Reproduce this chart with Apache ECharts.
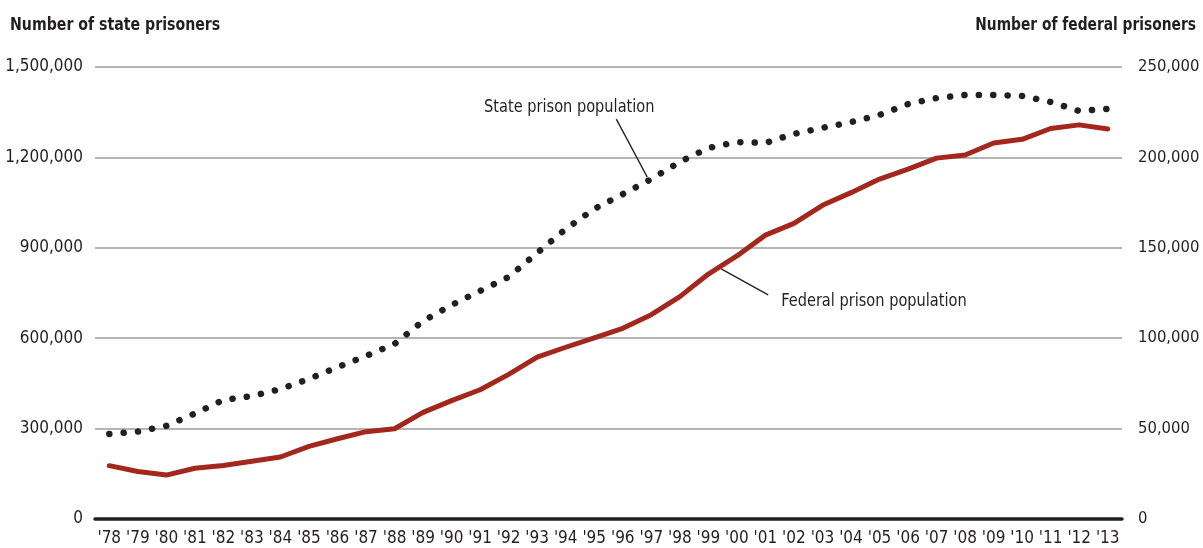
<!DOCTYPE html>
<html><head><meta charset="utf-8">
<script src="https://cdn.jsdelivr.net/npm/echarts@6/dist/echarts.min.js"></script>
<style>html,body{margin:0;padding:0;background:#fff}#c{width:1203px;height:548px}</style>
</head><body><div id="c"></div>
<script>
const years = ["'78","'79","'80","'81","'82","'83","'84","'85","'86","'87","'88","'89","'90","'91","'92","'93","'94","'95","'96","'97","'98","'99","'00","'01","'02","'03","'04","'05","'06","'07","'08","'09","'10","'11","'12","'13"];
const stateValues = [282000,290000,309000,350000,395000,408000,431000,465000,504000,541000,581000,657000,710000,757000,803000,883000,962000,1029000,1078000,1128000,1185000,1231000,1251000,1248000,1278000,1298000,1317000,1341000,1377000,1397000,1407000,1407000,1404000,1384000,1354000,1361000];
const federalValues = [29500,26300,24300,28100,29600,31900,34300,40200,44400,48300,49900,59000,65500,71500,80000,89500,95000,100200,105500,113000,123000,135500,145500,157000,163500,173500,180500,188000,193500,199600,201300,208000,210000,216000,218000,215700];
const leftTicks = [0,300000,600000,900000,1200000,1500000];
const rightTicks = [0,50000,100000,150000,200000,250000];
const leftTitle = 'Number of state prisoners';
const rightTitle = 'Number of federal prisoners';
const stateLabel = 'State prison population';
const federalLabel = 'Federal prison population';

const FONT = "'DejaVu Sans Condensed', Lato, sans-serif";
const INK = '#231f20';
const fmt = v => Number(v).toLocaleString('en-US');

const chart = echarts.init(document.getElementById('c'), null, {renderer:'canvas'});
const option = {
  animation: false,
  backgroundColor: '#fff',
  textStyle: {fontFamily: FONT},
  grid: {left: 95, right: 81, top: 67, bottom: 29, containLabel: false, outerBoundsMode: 'none'},
  xAxis: {
    type: 'category', data: years, boundaryGap: true,
    axisLine: {lineStyle: {color: INK, width: 3.5}},
    axisTick: {show: false},
    axisLabel: {interval: 0, margin: 11, fontSize: 17, color: INK, fontFamily: FONT}
  },
  yAxis: [
    {type: 'value', min: leftTicks[0], max: leftTicks[leftTicks.length-1], interval: leftTicks[1]-leftTicks[0],
     axisLine: {show: false}, axisTick: {show: false},
     axisLabel: {margin: 12, fontSize: 17, color: INK, fontFamily: FONT, formatter: fmt},
     splitLine: {lineStyle: {color: '#9d9d9d', width: 1.5}}},
    {type: 'value', min: rightTicks[0], max: rightTicks[rightTicks.length-1], interval: rightTicks[1]-rightTicks[0],
     position: 'right',
     axisLine: {show: false}, axisTick: {show: false},
     axisLabel: {margin: 16, fontSize: 16.5, color: INK, fontFamily: FONT, formatter: fmt},
     splitLine: {show: false}}
  ],
  series: [
    {name: stateLabel, type: 'line', yAxisIndex: 0, data: stateValues, showSymbol: false, symbol: 'none',
     lineStyle: {color: INK, width: 6.5, type: [0.1, 14.3], cap: 'round'}, z: 3},
    {name: federalLabel, type: 'line', yAxisIndex: 1, data: federalValues, showSymbol: false, symbol: 'none',
     lineStyle: {color: '#a3271d', width: 5, cap: 'round', join: 'round'}, z: 2}
  ]
};
chart.setOption(option);

const sIdx = years.indexOf("'97");
const pS = chart.convertToPixel({xAxisIndex: 0, yAxisIndex: 0}, [sIdx, stateValues[sIdx]]);
const fIdx = years.indexOf("'99");
const f1 = chart.convertToPixel({xAxisIndex: 0, yAxisIndex: 1}, [fIdx, federalValues[fIdx]]);
const f2 = chart.convertToPixel({xAxisIndex: 0, yAxisIndex: 1}, [fIdx+1, federalValues[fIdx+1]]);
const t = 0.45;
const pF = [f1[0] + t*(f2[0]-f1[0]), f1[1] + t*(f2[1]-f1[1])];

chart.setOption({
  graphic: [
    {type: 'text', x: 10, y: 25, scaleX: 0.85, style: {text: leftTitle, font: 'bold 18.5px ' + FONT, fill: INK, align: 'left', verticalAlign: 'middle'}},
    {type: 'text', x: 1196, y: 25, scaleX: 0.83, style: {text: rightTitle, font: 'bold 18.5px ' + FONT, fill: INK, align: 'right', verticalAlign: 'middle'}},
    {type: 'line', shape: {x1: pS[0]-4, y1: pS[1]-2, x2: pS[0]-35, y2: pS[1]-60}, style: {stroke: INK, lineWidth: 1.3}},
    {type: 'text', x: pS[0]-82, y: pS[1]-72, scaleX: 0.9, style: {text: stateLabel, font: '18px ' + FONT, fill: INK, align: 'center', verticalAlign: 'middle'}},
    {type: 'line', shape: {x1: pF[0], y1: pF[1]+3, x2: pF[0]+47, y2: pF[1]+29}, style: {stroke: INK, lineWidth: 1.3}},
    {type: 'text', x: pF[0]+60, y: pF[1]+35, scaleX: 0.9, style: {text: federalLabel, font: '18px ' + FONT, fill: INK, align: 'left', verticalAlign: 'middle'}}
  ]
});
</script></body></html>
